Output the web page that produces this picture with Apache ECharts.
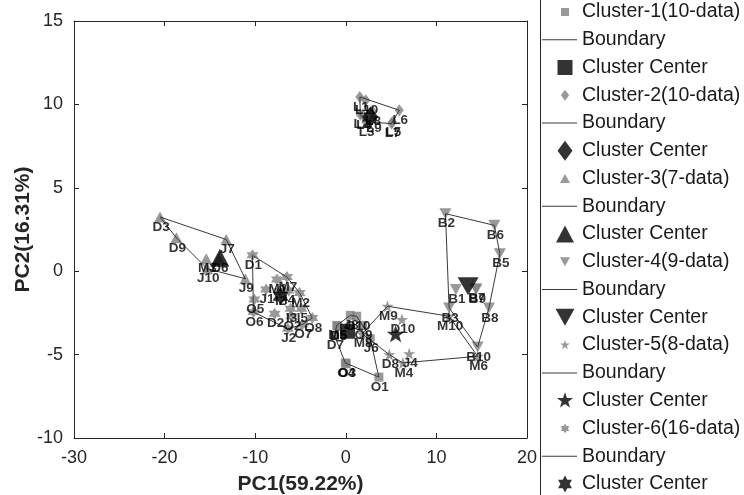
<!DOCTYPE html>
<html lang="en">
<head>
<meta charset="UTF-8">
<title>PCA clusters</title>
<style>
    html, body { margin: 0; padding: 0; background: #fff; }
    #chart { width: 744px; height: 495px; }
</style>
<script src="https://cdn.jsdelivr.net/npm/echarts@6/dist/echarts.min.js"></script>
</head>
<body>
<div id="chart"></div>
<script>
// cluster members (sample names, PC1, PC2)
var c1Names = ['O1', 'O3', 'O4', 'O9', 'O10', 'M5', 'D7', 'J6', 'J8', 'D5'];
var c1X = [3.65, 0.05, -0.05, 1.85, 1.2, -1.0, -1.25, 2.7, 0.5, -0.9];
var c1Y = [-6.35, -5.55, -5.5, -3.25, -2.7, -3.25, -3.85, -4.05, -2.65, -3.3];
var c1Center = [0.2, -3.6];

var c2Names = ['L1', 'L2', 'L3', 'L4', 'L5', 'L6', 'L7', 'L8', 'L9', 'L10'];
var c2X = [1.55, 1.6, 2.2, 1.9, 5.15, 5.9, 5.05, 2.9, 3.0, 2.2];
var c2Y = [10.45, 9.4, 8.95, 9.35, 8.95, 9.65, 8.85, 9.6, 9.15, 10.25];
var c2Center = [2.7, 9.25];

var c3Names = ['D3', 'D9', 'J7', 'M3', 'D6', 'J10', 'J9'];
var c3X = [-20.5, -18.7, -13.2, -15.4, -14.0, -15.3, -11.1];
var c3Y = [3.25, 2.0, 1.9, 0.75, 0.75, 0.15, -0.45];
var c3Center = [-13.9, 0.8];

var c4Names = ['B1', 'B2', 'B3', 'B5', 'B6', 'B7', 'B8', 'B9', 'B10'];
var c4X = [12.15, 11.0, 11.4, 17.0, 16.4, 14.35, 15.8, 14.4, 14.55];
var c4Y = [-1.1, 3.45, -2.2, 1.05, 2.75, -1.05, -2.2, -1.1, -4.55];
var c4Center = [13.5, -0.9];

var c5Names = ['M9', 'D10', 'M10', 'M6', 'J4', 'M4', 'D8', 'M8'];
var c5X = [4.6, 6.2, 11.4, 14.55, 7.0, 6.3, 4.8, 1.8];
var c5Y = [-2.1, -2.9, -2.7, -5.1, -4.95, -5.5, -5.0, -3.75];
var c5Center = [5.5, -3.75];

var c6Names = ['D1', 'J1', 'M1', 'M7', 'I4', 'M2', 'O5', 'O6', 'D2', 'O2', 'J2', 'O7', 'O8', 'I3', 'I5', 'I2'];
var c6X = [-10.3, -8.8, -7.6, -6.5, -6.3, -5.1, -10.1, -10.2, -7.85, -6.0, -6.4, -4.8, -3.7, -6.1, -4.9, -7.3];
var c6Y = [0.95, -1.1, -0.5, -0.35, -1.15, -1.3, -1.7, -2.45, -2.55, -2.7, -3.45, -3.2, -2.8, -2.25, -2.25, -1.2];
var c6Center = [-7.2, -1.5];

var legendTitles = ['Cluster-1(10-data)', 'Cluster-2(10-data)', 'Cluster-3(7-data)',
    'Cluster-4(9-data)', 'Cluster-5(8-data)', 'Cluster-6(16-data)'];

var FONT = 'Liberation Sans, Arial, sans-serif';
var GRAY = '#808080';
var LINE = '#3a3a3a';

// marker outlines in a unit box
function starPts(n, rin) {
    var pts = [];
    for (var i = 0; i < 2 * n; i++) {
        var r = i % 2 ? rin : 1;
        var a = -Math.PI / 2 + i * Math.PI / n;
        pts.push([r * Math.cos(a), r * Math.sin(a)]);
    }
    return pts;
}
var SHAPES = {
    square: [[-1, -1], [1, -1], [1, 1], [-1, 1]],
    diamond: [[0, -1], [0.75, 0], [0, 1], [-0.75, 0]],
    up: [[0, -1], [1, 1], [-1, 1]],
    down: [[-1, -1], [1, -1], [0, 1]],
    pent: starPts(5, 0.4),
    hex: starPts(6, 0.58)
};
function toPath(pts, w, h, cx, cy) {
    return 'M' + pts.map(function (p) {
        return (cx + p[0] * w / 2).toFixed(2) + ',' + (cy + p[1] * h / 2).toFixed(2);
    }).join('L') + 'Z';
}
// legend icons are drawn in a 37x20 box; the two empty moves fix that box
var IW = 37, IH = 20;
function legendIcon(shape, sz) {
    return 'path://M0,0M' + IW + ',' + IH + toPath(SHAPES[shape], sz[0], sz[1], 25, IH / 2);
}
var lineIcon = 'path://M0,0M' + IW + ',' + IH + 'M2,9.5L' + IW + ',9.5L' + IW + ',10.5L2,10.5Z';

var clusters = [
    {names: c1Names, x: c1X, y: c1Y, center: c1Center, shape: 'square', size: [9, 9], csize: [15, 15], lg: [8, 8], lc: [15, 15]},
    {names: c2Names, x: c2X, y: c2Y, center: c2Center, shape: 'diamond', size: [9, 12], csize: [16, 21], lg: [11, 11], lc: [20, 20]},
    {names: c3Names, x: c3X, y: c3Y, center: c3Center, shape: 'up', size: [12, 11], csize: [19, 18], lg: [10, 9], lc: [18, 17]},
    {names: c4Names, x: c4X, y: c4Y, center: c4Center, shape: 'down', size: [12, 11], csize: [21, 18], lg: [10, 9], lc: [19, 17]},
    {names: c5Names, x: c5X, y: c5Y, center: c5Center, shape: 'pent', size: [12, 12], csize: [18, 17], lg: [10, 10], lc: [17, 17]},
    {names: c6Names, x: c6X, y: c6Y, center: c6Center, shape: 'hex', size: [12, 12], csize: [16, 18], lg: [10, 10], lc: [16, 17]}
];

// convex hull (monotone chain), returned closed
function hull(xs, ys) {
    var p = xs.map(function (v, i) { return [v, ys[i]]; });
    p.sort(function (a, b) { return a[0] - b[0] || a[1] - b[1]; });
    function cross(o, a, b) { return (a[0] - o[0]) * (b[1] - o[1]) - (a[1] - o[1]) * (b[0] - o[0]); }
    var lo = [], up = [];
    for (var i = 0; i < p.length; i++) {
        while (lo.length >= 2 && cross(lo[lo.length - 2], lo[lo.length - 1], p[i]) <= 0) lo.pop();
        lo.push(p[i]);
    }
    for (var j = p.length - 1; j >= 0; j--) {
        while (up.length >= 2 && cross(up[up.length - 2], up[up.length - 1], p[j]) <= 0) up.pop();
        up.push(p[j]);
    }
    up.pop(); lo.pop();
    var h = lo.concat(up);
    h.push(h[0]);
    return h;
}

var series = [];
var legendData = [];
var labelData = [];
clusters.forEach(function (c, k) {
    var zw = new Array(k + 1).join('\u200b');   // keeps repeated legend names apart
    var pts = c.x.map(function (v, i) { return [v, c.y[i]]; });
    var sym = 'path://' + toPath(SHAPES[c.shape], 2, 2, 0, 0);
    series.push({
        name: legendTitles[k], type: 'scatter', data: pts,
        symbol: sym, symbolSize: c.size,
        itemStyle: {color: GRAY}
    });
    series.push({
        name: 'Boundary' + zw, type: 'line', data: hull(c.x, c.y),
        symbol: 'none', showSymbol: false,
        itemStyle: {color: LINE},
        lineStyle: {color: LINE, width: 1}
    });
    series.push({
        name: 'Cluster Center' + zw, type: 'scatter', data: [c.center],
        symbol: sym, symbolSize: c.csize,
        itemStyle: {color: '#000'}
    });
    legendData.push({name: legendTitles[k], icon: legendIcon(c.shape, c.lg)});
    legendData.push({name: 'Boundary' + zw, icon: lineIcon, itemStyle: {color: LINE, borderWidth: 0}});
    legendData.push({name: 'Cluster Center' + zw, icon: legendIcon(c.shape, c.lc)});
    c.names.forEach(function (n, i) {
        labelData.push({name: n, value: [c.x[i], c.y[i]]});
    });
});
series.push({
    name: 'labels', type: 'scatter', data: labelData, z: 10,
    symbolSize: 1, itemStyle: {color: 'rgba(0,0,0,0)'},
    label: {
        show: true, position: 'inside', offset: [1, 10],
        formatter: '{b}', color: '#000', fontFamily: FONT,
        fontWeight: 'bold', fontSize: 13.5
    }
});

var axisCommon = {
    type: 'value',
    axisLine: {show: true, onZero: false, lineStyle: {color: '#262626', width: 1}},
    axisTick: {show: true, inside: true, length: 5, lineStyle: {color: '#262626'}},
    splitLine: {show: false}
};

var myChart = echarts.init(document.getElementById('chart'));
var option = {
    animation: false,
    backgroundColor: '#fff',
    // fixed plot box; do not let the axis names squeeze it
    grid: {left: 74, right: 217, top: 21, bottom: 57, outerBoundsMode: 'none'},
    xAxis: [
        Object.assign({}, axisCommon, {
            position: 'bottom', min: -30, max: 20, interval: 10,
            axisLabel: {fontSize: 18, color: '#262626', fontFamily: FONT, margin: 11},
            name: 'PC1(59.22%)', nameLocation: 'middle', nameGap: 35.5, nameMoveOverlap: false,
            nameTextStyle: {fontSize: 21, fontWeight: 'bold', color: '#262626', fontFamily: FONT}
        }),
        Object.assign({}, axisCommon, {
            position: 'top', min: -30, max: 20, interval: 10, axisLabel: {show: false}
        })
    ],
    yAxis: [
        Object.assign({}, axisCommon, {
            position: 'left', min: -10, max: 15, interval: 5,
            axisLabel: {fontSize: 18, color: '#262626', fontFamily: FONT, margin: 11},
            name: 'PC2(16.31%)', nameLocation: 'middle', nameGap: 40, nameMoveOverlap: false,
            nameTextStyle: {fontSize: 21, fontWeight: 'bold', color: '#262626', fontFamily: FONT}
        }),
        Object.assign({}, axisCommon, {
            position: 'right', min: -10, max: 15, interval: 5, axisLabel: {show: false}
        })
    ],
    legend: {
        orient: 'vertical', left: 540, top: 2, padding: 0,
        itemWidth: IW, itemHeight: IH, itemGap: 7.76,
        symbolKeepAspect: true,
        itemStyle: {borderWidth: 0},
        data: legendData,
        formatter: function (n) { return n.replace(/\u200b/g, ''); },
        textStyle: {fontSize: 19.5, lineHeight: 20, color: '#1a1a1a', fontFamily: FONT}
    },
    graphic: [{
        type: 'rect', z: -1,
        shape: {x: 540.5, y: -5, width: 260, height: 520},
        style: {fill: '#fff', stroke: '#262626', lineWidth: 1}
    }],
    series: series
};
myChart.setOption(option);
</script>
</body>
</html>
